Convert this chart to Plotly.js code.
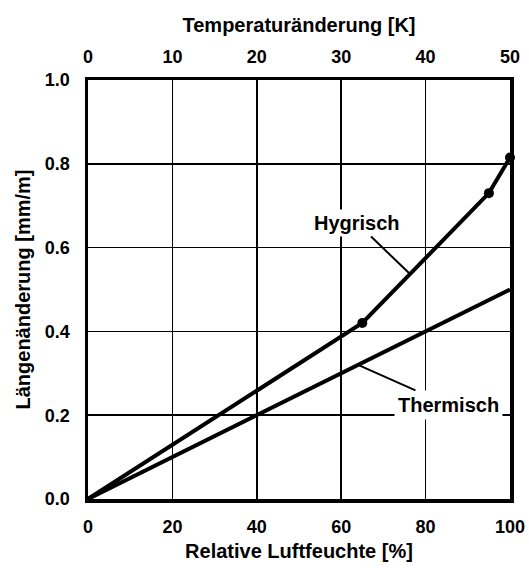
<!DOCTYPE html>
<html>
<head>
<meta charset="utf-8">
<script src="https://cdn.plot.ly/plotly-3.0.1.min.js"></script>
<style>
  html, body { margin: 0; padding: 0; background: #fff; }
  #chart { width: 529px; height: 568px; }
</style>
</head>
<body>
<div id="chart"></div>
<script>
// Hygric expansion vs. relative humidity (measured points)
const hygrRH = [0, 65, 95, 100];
const hygrStrain = [0, 0.42, 0.73, 0.815];
const hygrMarkRH = [65, 95, 100];
const hygrMarkStrain = [0.42, 0.73, 0.815];

// Thermal expansion, plotted against the bottom axis scale (100 % = 50 K)
const thermX = [0, 100];
const thermStrain = [0, 0.5];

// Axis ticks
const rhTicks = [0, 20, 40, 60, 80, 100];
const tempTicks = [0, 10, 20, 30, 40, 50];
const strainTicks = [0, 0.2, 0.4, 0.6, 0.8, 1.0];

const FONT = 'Liberation Sans, Arial, sans-serif';
const tickFont = { family: FONT, size: 18, color: '#000', weight: 'bold' };
const titleFont = { family: FONT, size: 20, color: '#000', weight: 'bold' };

const traces = [
  {
    x: hygrRH, y: hygrStrain, mode: 'lines',
    line: { color: '#000', width: 4 },
    hoverinfo: 'skip', showlegend: false
  },
  {
    x: hygrMarkRH, y: hygrMarkStrain, mode: 'markers',
    marker: { color: '#000', size: 10 },
    cliponaxis: false, hoverinfo: 'skip', showlegend: false
  },
  {
    x: thermX, y: thermStrain, mode: 'lines',
    line: { color: '#000', width: 4 },
    hoverinfo: 'skip', showlegend: false
  },
  {
    // anchors the top temperature axis
    x: [0, 50], y: [0, 0], xaxis: 'x2', mode: 'lines',
    line: { color: 'rgba(0,0,0,0)', width: 0 },
    hoverinfo: 'skip', showlegend: false
  }
];

const layout = {
  width: 529, height: 568,
  margin: { l: 88, r: 19, t: 80, b: 69 },
  paper_bgcolor: '#fff', plot_bgcolor: '#fff',
  xaxis: {
    range: [0, 100], tickvals: rhTicks, ticktext: rhTicks.map(String),
    showgrid: true, gridcolor: '#000', gridwidth: 1.6,
    zeroline: false, showline: true, linecolor: '#000', linewidth: 3.5, mirror: true,
    ticks: 'outside', ticklen: 9, tickcolor: 'rgba(0,0,0,0)',
    tickfont: tickFont, automargin: false,
    title: { text: 'Relative Luftfeuchte [%]', font: titleFont, standoff: 9 }
  },
  xaxis2: {
    range: [0, 50], tickvals: tempTicks, ticktext: tempTicks.map(String),
    overlaying: 'x', side: 'top', anchor: 'y',
    showgrid: false, zeroline: false, showline: false,
    ticks: 'outside', ticklen: 9, tickcolor: 'rgba(0,0,0,0)',
    tickfont: tickFont, automargin: false,
    title: { text: 'Temperaturänderung [K]', font: titleFont, standoff: 8 }
  },
  yaxis: {
    range: [0, 1], tickvals: strainTicks, ticktext: strainTicks.map(v => v.toFixed(1)),
    showgrid: true, gridcolor: '#000', gridwidth: 1.6,
    zeroline: false, showline: true, linecolor: '#000', linewidth: 3.5, mirror: true,
    ticks: 'outside', ticklen: 11, tickcolor: 'rgba(0,0,0,0)',
    tickfont: tickFont, automargin: false,
    title: { text: 'Längenänderung [mm/m]', font: titleFont, standoff: 10 }
  },
  annotations: [
    {
      x: 76.3, y: 0.537, xref: 'x', yref: 'y',
      text: 'Hygrisch', font: titleFont,
      showarrow: true, arrowhead: 0, arrowwidth: 2, arrowcolor: '#000',
      ax: -53, ay: -51, bgcolor: '#fff', borderpad: 2
    },
    {
      x: 64, y: 0.32, xref: 'x', yref: 'y',
      text: 'Thermisch', font: titleFont,
      showarrow: true, arrowhead: 0, arrowwidth: 2, arrowcolor: '#000',
      ax: 90, ay: 40, bgcolor: '#fff', borderpad: 3
    }
  ]
};

Plotly.newPlot('chart', traces, layout, { staticPlot: true, displayModeBar: false });
</script>
</body>
</html>
